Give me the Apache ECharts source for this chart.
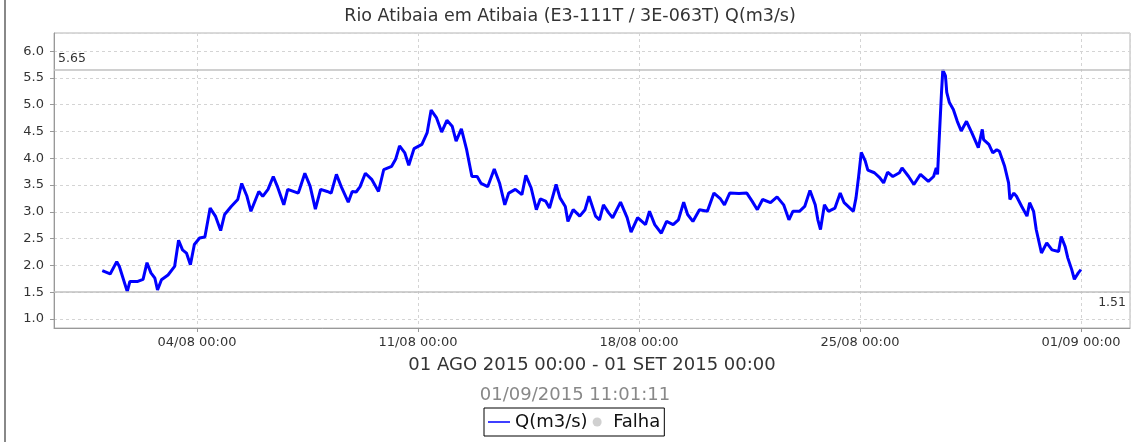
<!DOCTYPE html>
<html>
<head>
<meta charset="utf-8">
<script src="https://cdn.jsdelivr.net/npm/echarts@6/dist/echarts.min.js"></script>
<style>
html,body{margin:0;padding:0;background:#fff;}
#chart{width:1140px;height:442px;}
</style>
</head>
<body>
<div id="chart"></div>
<script>
// hours since 01/08/2015 00:00
const hours = [0,6,11,13,19,21,27,31,34,37,40,42,45,50,55,58,61,64,67,70,74,78,82,86,90,93,98,103,106,110,113,119,122,126,130,133,138,141,149,150,154,158,162,166,171,174,178,182,187,190,193,196,200,205,210,214,220,223,226,230,233,237,243,247,250,254,258,262,266,269,273,277,281,285,288,293,298,302,306,309,314,319,322,326,330,333,337,340,345,348,352,354,358,363,367,370,375,378,381,385,388,394,399,402,407,413,416,420,425,429,434,438,442,445,449,454,460,465,470,473,477,484,490,494,498,502,508,513,518,522,525,530,534,538,542,544,546,549,552,557,561,564,571,573,575,577,580,582,587,591,594,597,601,606,608,613,617,622,628,632,634,635,636,638,639,641,642,644,647,650,653,657,661,666,669,670,674,677,680,682,686,689,690,693,695,699,703,705,708,710,714,718,722,727,729,732,734,737,739,742,744];
const flow = [1.90,1.84,2.07,1.98,1.51,1.70,1.70,1.74,2.05,1.86,1.76,1.54,1.73,1.82,1.98,2.47,2.29,2.23,2.01,2.39,2.51,2.53,3.07,2.92,2.65,2.95,3.10,3.23,3.53,3.29,3.01,3.38,3.29,3.42,3.66,3.48,3.13,3.42,3.35,3.42,3.72,3.48,3.05,3.42,3.38,3.35,3.70,3.45,3.18,3.38,3.37,3.47,3.72,3.60,3.38,3.79,3.85,3.98,4.23,4.10,3.87,4.18,4.26,4.48,4.90,4.76,4.49,4.71,4.60,4.32,4.55,4.16,3.66,3.66,3.53,3.47,3.80,3.54,3.13,3.35,3.42,3.32,3.68,3.45,3.04,3.24,3.20,3.07,3.51,3.26,3.10,2.82,3.04,2.92,3.04,3.29,2.92,2.85,3.13,2.98,2.89,3.18,2.89,2.62,2.89,2.76,3.01,2.76,2.60,2.82,2.76,2.85,3.18,2.95,2.82,3.04,3.01,3.35,3.24,3.13,3.35,3.34,3.35,3.20,3.04,3.23,3.17,3.28,3.13,2.85,3.01,3.01,3.10,3.40,3.13,2.85,2.67,3.13,3.01,3.07,3.35,3.17,3.01,3.26,3.66,4.11,3.95,3.78,3.73,3.64,3.54,3.74,3.66,3.73,3.82,3.66,3.51,3.70,3.57,3.66,3.82,3.70,4.23,5.23,5.65,5.54,5.23,5.04,4.91,4.69,4.51,4.69,4.48,4.20,4.54,4.35,4.26,4.10,4.16,4.13,3.85,3.54,3.23,3.35,3.29,3.10,2.92,3.17,3.01,2.67,2.23,2.42,2.29,2.26,2.54,2.35,2.14,1.92,1.74,1.86,1.92];
const xTickLabels = ['04/08 00:00','11/08 00:00','18/08 00:00','25/08 00:00','01/09 00:00'];
const titleText = 'Rio Atibaia em Atibaia (E3-111T / 3E-063T) Q(m3/s)';
const periodText = '01 AGO 2015 00:00 - 01 SET 2015 00:00';
const stampText = '01/09/2015 11:01:11';
const seriesName = 'Q(m3/s)';
const failName = 'Falha';

// x axis unit: weeks since 28/07/2015 00:00 (01/08 00:00 = 96 h later)
const toWeeks = h => (h + 96) / 168;
const data = hours.map((h, i) => [toWeeks(h), flow[i]]);
const vMax = Math.max(...flow), vMin = Math.min(...flow);

const chart = echarts.init(document.getElementById('chart'), null, {renderer: 'canvas'});
const FONT = 'DejaVu Sans';
const lineIcon = 'path://M0,0L0.01,0Z M0,3.7L22,3.7L22,5.3L0,5.3Z M0,9L0.01,9Z';
chart.setOption({
  animation: false,
  backgroundColor: '#ffffff',
  textStyle: {fontFamily: FONT},
  title: {
    text: titleText, left: 'center', top: 2,
    textStyle: {fontFamily: FONT, fontSize: 17.5, fontWeight: 'normal', color: '#333'}
  },
  grid: {left: 54, right: 10, top: 33, bottom: 114, show: true, borderColor: '#b4b4b4', borderWidth: 1, backgroundColor: '#fff'},
  xAxis: {
    type: 'value', min: toWeeks(-36.7), max: toWeeks(781.3), splitNumber: 5,
    name: periodText, nameLocation: 'middle', nameGap: 28,
    nameTextStyle: {fontFamily: FONT, fontSize: 18, color: '#333'},
    axisLine: {show: true, lineStyle: {color: '#999', width: 1}},
    axisTick: {show: true, length: 4, lineStyle: {color: '#999'}},
    axisLabel: {
      showMinLabel: false, showMaxLabel: false, margin: 8,
      fontFamily: FONT, fontSize: 13, color: '#333',
      formatter: v => { const k = Math.round(v); return Math.abs(v - k) < 1e-6 && k >= 1 && k <= xTickLabels.length ? xTickLabels[k - 1] : ''; }
    },
    splitLine: {show: true, lineStyle: {color: '#d4d4d4', type: [3, 3], width: 1}}
  },
  yAxis: {
    type: 'value', min: 0.83, max: 6.34, splitNumber: 11,
    axisLine: {show: true, lineStyle: {color: '#999', width: 1}},
    axisTick: {show: true, length: 4, lineStyle: {color: '#999'}},
    axisLabel: {
      showMinLabel: false, showMaxLabel: false, margin: 10,
      fontFamily: FONT, fontSize: 13, color: '#333',
      formatter: v => v.toFixed(1)
    },
    splitLine: {show: true, lineStyle: {color: '#d4d4d4', type: [3, 3], width: 1}}
  },
  legend: {
    left: 484, top: 408,
    data: [{name: seriesName, icon: lineIcon, itemStyle: {color: '#0000ff', borderWidth: 0}}, {name: failName, icon: 'circle', itemStyle: {borderWidth: 0}}],
    borderColor: '#000', borderWidth: 1, padding: [5, 4, 5, 4],
    itemWidth: 22, itemHeight: 9, itemGap: 5,
    textStyle: {fontFamily: FONT, fontSize: 18, color: '#111'}
  },
  graphic: [
    {type: 'line', shape: {x1: 5, y1: 0, x2: 5, y2: 442}, style: {stroke: '#888', lineWidth: 2}},
    {type: 'text', x: 575, y: 395, style: {text: stampText, fontFamily: FONT, fontSize: 18, fill: '#888', textAlign: 'center', textVerticalAlign: 'middle'}}
  ],
  series: [
    {
      name: seriesName, type: 'line', data: data, symbol: 'none', showSymbol: false,
      lineStyle: {color: '#0000ff', width: 3}, itemStyle: {color: '#0000ff'},
      z: 3,
      markLine: {
        silent: true, symbol: 'none', animation: false,
        lineStyle: {color: '#c0c0c0', type: 'solid', width: 1.5},
        data: [
          {yAxis: vMax, label: {position: 'insideStartTop', formatter: vMax.toFixed(2), color: '#333', fontFamily: FONT, fontSize: 12.5, padding: [0, 0, 0, 4], distance: [0, 5]}},
          {yAxis: vMin, label: {position: 'insideEndBottom', formatter: vMin.toFixed(2), color: '#333', fontFamily: FONT, fontSize: 12.5, padding: [0, 4, 0, 0], distance: [0, 5]}}
        ]
      }
    },
    {name: failName, type: 'scatter', data: [], itemStyle: {color: '#c4c4c4'}, symbol: 'circle'}
  ]
});
</script>
</body>
</html>
